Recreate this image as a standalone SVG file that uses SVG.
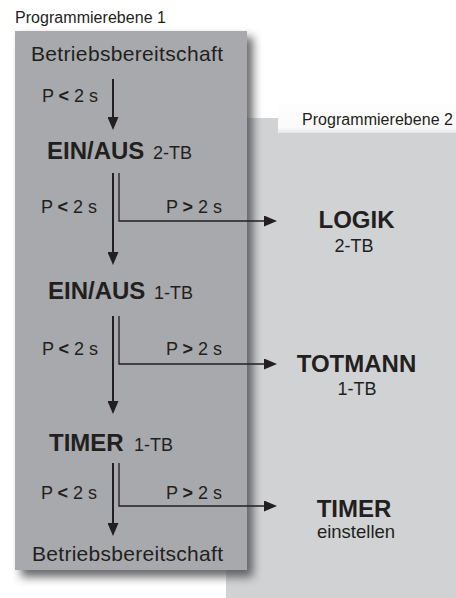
<svg xmlns="http://www.w3.org/2000/svg" width="456" height="598" viewBox="0 0 456 598">
<style>
text{font-family:"Liberation Sans",Arial,sans-serif;fill:#231f20}
.hdr{font-size:16px}
.big{font-size:21px}
.b{font-size:24px;font-weight:bold}
.s{font-size:18px}
.lab{font-size:18px}
.c{text-anchor:middle}
.main{fill:none;stroke:#231f20;stroke-width:2}
.br{fill:none;stroke:#231f20;stroke-width:1.3}
</style>
<defs>
<marker id="ah" markerUnits="userSpaceOnUse" markerWidth="13" markerHeight="11" refX="7" refY="5.5" orient="auto">
<path d="M0,0 L13,5.5 L0,11 z" fill="#231f20"/>
</marker>
<filter id="sh" x="-20%" y="-20%" width="140%" height="140%">
<feGaussianBlur stdDeviation="5"/>
</filter>
<linearGradient id="tabsh" x1="0" y1="0" x2="0" y2="1">
<stop offset="0" stop-color="#ffffff"/>
<stop offset="0.85" stop-color="#fbfbfb"/>
<stop offset="1" stop-color="#e6e7e8"/>
</linearGradient>
</defs>
<rect width="456" height="598" fill="#ffffff"/>
<g id="ebene2">
<rect x="226" y="118" width="230" height="480" fill="#d1d2d4"/>
<rect x="278" y="96" width="178" height="37" fill="url(#tabsh)"/>
<text class="hdr" x="302" y="125" textLength="151">Programmierebene 2</text>
</g>
<g id="ebene1">
<rect x="21" y="37" width="232" height="540" fill="#4d4d4f" opacity="0.85" filter="url(#sh)"/>
<rect x="15" y="31" width="232" height="539" fill="#a7a9ac"/>
<text class="hdr" x="15" y="23" textLength="151">Programmierebene 1</text>
</g>
<g id="start">
<text class="big" x="31" y="61" textLength="192">Betriebsbereitschaft</text>
</g>
<g id="einaus2">
<text x="47" y="159"><tspan class="b">EIN/AUS</tspan><tspan class="s" x="153">2-TB</tspan></text>
</g>
<g id="einaus1">
<text x="48" y="299"><tspan class="b">EIN/AUS</tspan><tspan class="s" x="154">1-TB</tspan></text>
</g>
<g id="timer1">
<text x="49" y="451"><tspan class="b">TIMER</tspan><tspan class="s" x="134">1-TB</tspan></text>
</g>
<g id="ende">
<text class="big" x="32" y="561" textLength="191">Betriebsbereitschaft</text>
</g>
<g id="logik">
<text class="b c" x="356.5" y="228">LOGIK</text>
<text class="s c" x="354" y="252">2-TB</text>
</g>
<g id="totmann">
<text class="b c" x="356.5" y="372">TOTMANN</text>
<text class="s c" x="357" y="395">1-TB</text>
</g>
<g id="timerset">
<text class="b c" x="354" y="517">TIMER</text>
<text class="s c" x="356" y="538" style="font-size:18.5px">einstellen</text>
</g>
<g id="connectors">
<path class="main" d="M113,79 V124" marker-end="url(#ah)"/>
<path class="main" d="M113,173 V259" marker-end="url(#ah)"/>
<path class="br" d="M119,173 V221 H271" marker-end="url(#ah)"/>
<path class="main" d="M113,316 V408" marker-end="url(#ah)"/>
<path class="br" d="M119,316 V364 H271" marker-end="url(#ah)"/>
<path class="main" d="M113,463 V530" marker-end="url(#ah)"/>
<path class="br" d="M119,463 V506 H271" marker-end="url(#ah)"/>
<text class="lab" x="42" y="102" textLength="56">P <tspan font-weight="bold">&lt;</tspan> 2 s</text>
<text class="lab" x="41" y="213" textLength="56">P <tspan font-weight="bold">&lt;</tspan> 2 s</text>
<text class="lab" x="166" y="213" textLength="56">P <tspan font-weight="bold">&gt;</tspan> 2 s</text>
<text class="lab" x="42" y="355" textLength="56">P <tspan font-weight="bold">&lt;</tspan> 2 s</text>
<text class="lab" x="166" y="355" textLength="56">P <tspan font-weight="bold">&gt;</tspan> 2 s</text>
<text class="lab" x="41" y="499" textLength="56">P <tspan font-weight="bold">&lt;</tspan> 2 s</text>
<text class="lab" x="166" y="499" textLength="56">P <tspan font-weight="bold">&gt;</tspan> 2 s</text>
</g>
</svg>
